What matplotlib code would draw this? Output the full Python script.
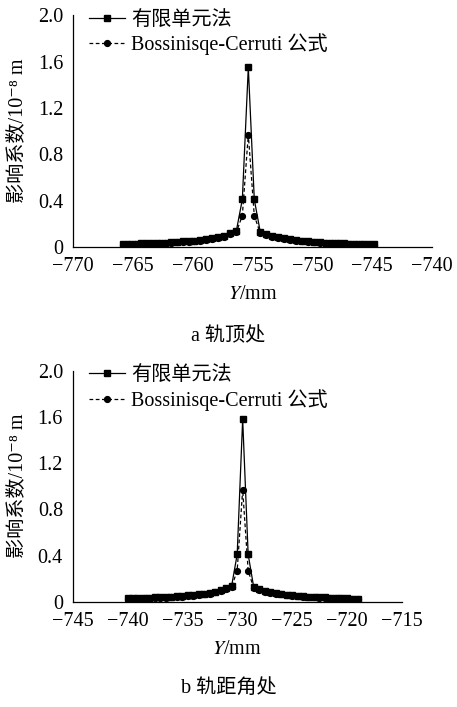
import matplotlib
matplotlib.use("Agg")
from matplotlib import pyplot as plt
from matplotlib.ticker import FixedLocator

plt.rcParams['font.family'] = ['Liberation Serif', 'Noto Sans CJK SC', 'DejaVu Serif']
plt.rcParams['mathtext.fontset'] = 'stix'
plt.rcParams['axes.unicode_minus'] = True

FS = 14.5

# (a) rail top: load position Y (mm) and influence coefficient (10^-8 m)
y_top = [-765.85, -765.35, -764.85, -764.35, -763.85, -763.35, -762.85, -762.35,
         -761.85, -761.35, -760.85, -760.35, -759.85, -759.35, -758.85, -758.35,
         -757.85, -757.35, -756.85, -756.35, -755.85, -755.35, -754.85, -754.35,
         -753.85, -753.35, -752.85, -752.35, -751.85, -751.35, -750.85, -750.35,
         -749.85, -749.35, -748.85, -748.35, -747.85, -747.35, -746.85, -746.35,
         -745.85, -745.35, -744.85]
fem_top = [0.025, 0.027, 0.029, 0.031, 0.033, 0.035, 0.037, 0.039, 0.042, 0.045,
           0.048, 0.052, 0.056, 0.061, 0.067, 0.074, 0.083, 0.095, 0.12, 0.14,
           0.41, 1.55, 0.41,
           0.13, 0.11, 0.095, 0.083, 0.074, 0.066, 0.060, 0.055, 0.050, 0.046,
           0.042, 0.039, 0.036, 0.034, 0.032, 0.030, 0.028, 0.026, 0.024, 0.022]
bc_top = [0.020, 0.022, 0.024, 0.026, 0.028, 0.030, 0.032, 0.034, 0.037, 0.040,
          0.043, 0.047, 0.051, 0.056, 0.062, 0.069, 0.078, 0.090, 0.11, 0.13,
          0.27, 0.97, 0.27,
          0.12, 0.10, 0.088, 0.077, 0.068, 0.061, 0.055, 0.050, 0.046, 0.042,
          0.039, 0.036, 0.033, 0.031, 0.029, 0.027, 0.025, 0.023, 0.021, 0.019]

# (b) gauge corner
y_gauge = [-740.0, -739.5, -739.0, -738.5, -738.0, -737.5, -737.0, -736.5,
           -736.0, -735.5, -735.0, -734.5, -734.0, -733.5, -733.0, -732.5,
           -732.0, -731.5, -731.0, -730.5, -730.0, -729.5, -729.0, -728.5,
           -728.0, -727.5, -727.0, -726.5, -726.0, -725.5, -725.0, -724.5,
           -724.0, -723.5, -723.0, -722.5, -722.0, -721.5, -721.0, -720.5,
           -720.0, -719.5, -719.0]
fem_gauge = [0.028, 0.030, 0.032, 0.034, 0.036, 0.038, 0.040, 0.042, 0.045, 0.048,
             0.051, 0.055, 0.059, 0.064, 0.070, 0.077, 0.086, 0.098, 0.115, 0.14,
             0.41, 1.58, 0.41,
             0.13, 0.11, 0.096, 0.085, 0.076, 0.068, 0.062, 0.057, 0.052, 0.048,
             0.045, 0.042, 0.039, 0.037, 0.035, 0.033, 0.031, 0.029, 0.027, 0.025]
bc_gauge = [0.022, 0.024, 0.026, 0.028, 0.030, 0.032, 0.034, 0.036, 0.039, 0.042,
            0.045, 0.049, 0.053, 0.058, 0.064, 0.071, 0.080, 0.092, 0.11, 0.13,
            0.27, 0.97, 0.27,
            0.12, 0.10, 0.088, 0.078, 0.070, 0.063, 0.057, 0.052, 0.048, 0.044,
            0.041, 0.038, 0.036, 0.034, 0.032, 0.030, 0.028, 0.026, 0.024, 0.022]

xticks_top = [-770, -765, -760, -755, -750, -745, -740]
xticks_gauge = [-745, -740, -735, -730, -725, -720, -715]
yticks = [0, 0.4, 0.8, 1.2, 1.6, 2.0]
ytick_labels = ["0", "0.4", "0.8", "1.2", "1.6", "2.0"]

label_fem = "有限单元法"
label_bc = "Bossinisqe-Cerruti 公式"


def plot_panel(ax, y, fem, bc, xticks, ylabel_x, legend_x):
    ax.plot(y, fem, '-', color='black', lw=0.9, marker='s', ms=4.2, label=label_fem)
    ax.plot(y, bc, '--', color='black', lw=0.9, marker='o', ms=4.2, label=label_bc,
            dashes=(3, 2))

    ax.set_xlim(xticks[0], xticks[-1])
    ax.set_ylim(0, 2.0)

    ax.spines['top'].set_visible(False)
    ax.spines['right'].set_visible(False)
    for s in ('left', 'bottom'):
        ax.spines[s].set_linewidth(0.9)

    # labels on every step, but only a few short inward ticks
    ax.set_xticks(xticks)
    ax.set_xticklabels(["\u2212" + str(abs(v)) for v in xticks])
    ax.set_yticks(yticks)
    ax.set_yticklabels(ytick_labels)
    ax.tick_params(axis='both', which='major', length=0, labelsize=FS)
    ax.tick_params(axis='x', which='major', pad=7.5)
    ax.tick_params(axis='y', which='major', pad=7)
    ax.xaxis.set_minor_locator(FixedLocator([xticks[0], xticks[3], xticks[-1]]))
    ax.yaxis.set_minor_locator(FixedLocator([0, 2.0]))
    ax.tick_params(which='minor', direction='in', length=4, width=0.9)

    ax.set_ylabel("影响系数/10\u207b\u2078 m", fontsize=FS)
    ax.yaxis.set_label_coords(ylabel_x, 0.5)
    ax.set_xlabel("$Y$/mm", fontsize=FS)
    ax.xaxis.set_label_coords(0.5, -0.165)

    ax.legend(loc='upper left', bbox_to_anchor=(legend_x, 1.02), frameon=False,
              fontsize=FS, handlelength=1.8, handletextpad=0.3, labelspacing=0.18,
              numpoints=1, borderaxespad=0, borderpad=0)


fig = plt.figure(figsize=(4.57, 7.07), dpi=100)
ax1 = fig.add_axes([0.160, 0.6506, 0.785, 0.328])
ax2 = fig.add_axes([0.159, 0.1489, 0.720, 0.3268])

plot_panel(ax1, y_top, fem_top, bc_top, xticks_top, -0.128, 0.044)
plot_panel(ax2, y_gauge, fem_gauge, bc_gauge, xticks_gauge, -0.14, 0.05)

fig.text(0.499, 1 - 337 / 707, "a 轨顶处", ha='center', va='center', fontsize=FS)
fig.text(0.501, 1 - 689 / 707, "b 轨距角处", ha='center', va='center', fontsize=FS)

fig.savefig("out.png", dpi=100)
plt.close(fig)
